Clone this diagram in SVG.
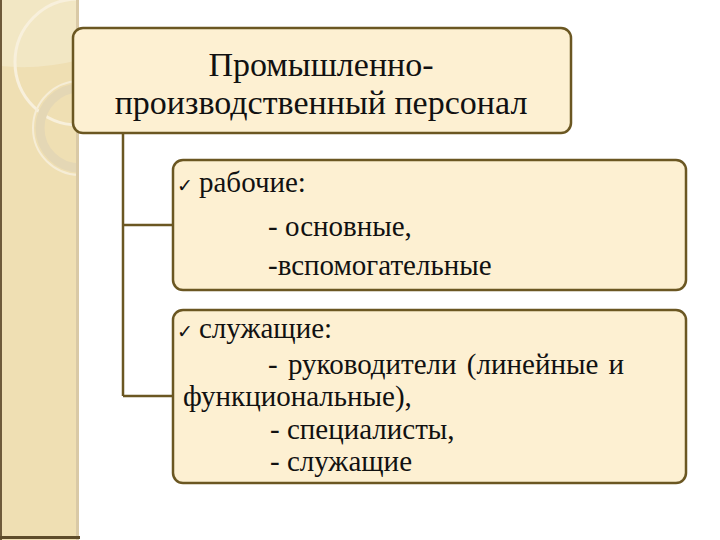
<svg xmlns="http://www.w3.org/2000/svg" width="720" height="540" viewBox="0 0 720 540">
<defs>
<style>
.box{fill:#FDF0D2;stroke:#6B5722;stroke-width:2.5}
.conn{fill:none;stroke:#6B5722;stroke-width:2.5}
.t{font-family:"Liberation Serif","Times New Roman","DejaVu Serif",serif;fill:#111}
.title{font-size:34px;text-anchor:middle}
.body{font-size:29px}
.chk{font-family:"DejaVu Sans",sans-serif;font-size:19px;font-weight:bold}
</style>
<clipPath id="band"><rect x="0" y="0" width="79" height="540"/></clipPath>
</defs>
<rect width="720" height="540" fill="#FFFFFF"/>
<g id="sidebar">
<rect x="0" y="0" width="79" height="540" fill="#EFDFB3"/>
<g clip-path="url(#band)">
<path d="M0 0 H79 V60 Q40 70 0 66 Z" fill="#F4E9CC" opacity="0.7"/>
<circle cx="78" cy="62" r="63" fill="none" stroke="#F8F0DC" stroke-width="3"/>
<circle cx="80" cy="128" r="40" fill="none" stroke="#E4D7B5" stroke-width="9"/>
<circle cx="80" cy="128" r="47" fill="none" stroke="#F6EDD6" stroke-width="2"/>
</g>
<rect x="76" y="0" width="3" height="540" fill="#D9C9A6"/>
<rect x="0" y="0" width="2" height="540" fill="#6E5A3A"/>
<rect x="0" y="536" width="80" height="3" fill="#5E4C2A"/>
</g>
<g id="connectors">
<path class="conn" d="M123 133 V396 M123 225 H173 M123 396 H173"/>
</g>
<g id="node-root">
<rect class="box" x="73" y="28" width="498" height="105" rx="10"/>
<text class="t title" x="321" y="76">Промышленно-</text>
<text class="t title" x="321" y="114">производственный персонал</text>
</g>
<g id="node-workers">
<rect class="box" x="173" y="160" width="513" height="130" rx="10"/>
<text class="t body" x="177" y="192"><tspan class="chk">✓</tspan><tspan x="199">рабочие:</tspan></text>
<text class="t body" x="268" y="236">- основные,</text>
<text class="t body" x="268" y="275">-вспомогательные</text>
</g>
<g id="node-employees">
<rect class="box" x="173" y="310" width="513" height="173" rx="10"/>
<text class="t body" x="177" y="338"><tspan class="chk">✓</tspan><tspan x="199">служащие:</tspan></text>
<text class="t body" x="268" y="374" word-spacing="3">- руководители (линейные и</text>
<text class="t body" x="183" y="406">функциональные),</text>
<text class="t body" x="270" y="439">- специалисты,</text>
<text class="t body" x="270" y="471">- служащие</text>
</g>
</svg>
